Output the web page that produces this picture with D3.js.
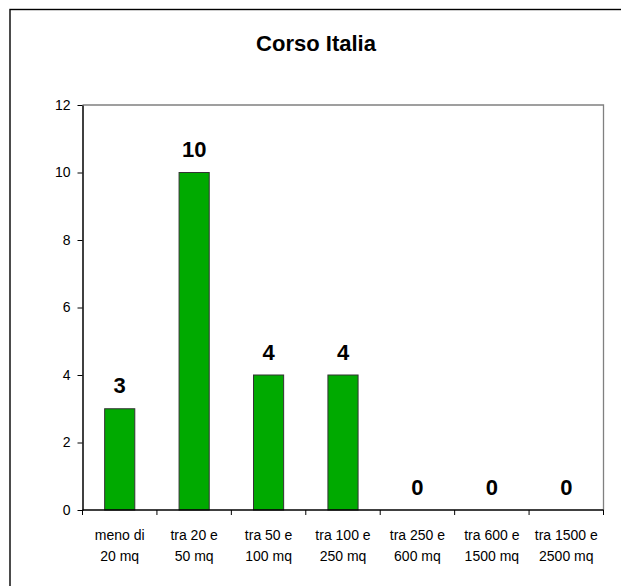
<!DOCTYPE html>
<html>
<head>
<meta charset="utf-8">
<script src="https://cdn.jsdelivr.net/npm/d3@7"></script>
<style>
  html, body { margin: 0; padding: 0; background: #fff; }
  svg { display: block; font-family: "Liberation Sans", Arial, sans-serif; }
</style>
</head>
<body>
<svg id="chart" width="621" height="586"></svg>
<script>
// Number of shops by floor-area band, Corso Italia
const title = "Corso Italia";
const categories = [
  ["meno di", "20 mq"],
  ["tra 20 e", "50 mq"],
  ["tra 50 e", "100 mq"],
  ["tra 100 e", "250 mq"],
  ["tra 250 e", "600 mq"],
  ["tra 600 e", "1500 mq"],
  ["tra 1500 e", "2500 mq"]
];
const values = [3, 10, 4, 4, 0, 0, 0];
const yTicks = [0, 2, 4, 6, 8, 10, 12];

const svg = d3.select("#chart");
const plot = { left: 82.5, right: 603.5, top: 105, bottom: 510 };

// outer chart frame
svg.append("rect")
  .attr("x", 10).attr("y", 9.5)
  .attr("width", 640).attr("height", 600)
  .attr("fill", "#fff").attr("stroke", "#000").attr("stroke-width", 1.4);

svg.append("text")
  .attr("x", 316).attr("y", 50.5)
  .attr("text-anchor", "middle")
  .attr("font-size", 22).attr("font-weight", "bold")
  .text(title);

const keys = categories.map((c, i) => i);
const x = d3.scaleBand().domain(keys).range([plot.left, plot.right]).padding(0);
const y = d3.scaleLinear().domain([0, 12]).range([plot.bottom, plot.top]);
const barW = x.bandwidth() * 0.405;

// plot area border (top and right)
svg.append("path")
  .attr("d", `M${plot.left},${plot.top}H${plot.right}V${plot.bottom}`)
  .attr("fill", "none").attr("stroke", "#808080").attr("stroke-width", 1.3);

// bars
svg.append("g").selectAll("rect")
  .data(values)
  .join("rect")
  .attr("x", (d, i) => x(i) + (x.bandwidth() - barW) / 2)
  .attr("y", d => y(d))
  .attr("width", barW)
  .attr("height", d => y(0) - y(d))
  .attr("fill", "#00aa00")
  .attr("stroke", "#333")
  .attr("stroke-width", 1);

// value labels
svg.append("g").selectAll("text")
  .data(values)
  .join("text")
  .attr("x", (d, i) => x(i) + x.bandwidth() / 2)
  .attr("y", d => y(d) - 15.5)
  .attr("text-anchor", "middle")
  .attr("font-size", 22).attr("font-weight", "bold")
  .text(d => d);

// y axis
const yAxis = svg.append("g")
  .attr("transform", `translate(${plot.left},0)`)
  .call(d3.axisLeft(y).tickValues(yTicks).tickSize(5).tickSizeOuter(0).tickPadding(7));
yAxis.select(".domain").attr("stroke", "#000").attr("stroke-width", 1.5);
yAxis.selectAll(".tick line").attr("stroke", "#000");
yAxis.selectAll(".tick text")
  .attr("font-size", 14).attr("font-family", "Liberation Sans, Arial, sans-serif")
  .attr("fill", "#000");

// x axis line and tick marks at band boundaries
const xg = svg.append("g");
xg.append("line")
  .attr("x1", plot.left).attr("x2", plot.right)
  .attr("y1", plot.bottom).attr("y2", plot.bottom)
  .attr("stroke", "#000").attr("stroke-width", 1.5);
const bounds = keys.map(k => x(k)).concat([x.range()[1]]);
xg.selectAll("line.tick")
  .data(bounds)
  .join("line")
  .attr("class", "tick")
  .attr("x1", d => d).attr("x2", d => d)
  .attr("y1", plot.bottom).attr("y2", plot.bottom + 5)
  .attr("stroke", "#000");

// category labels, two lines each
const labels = xg.selectAll("text")
  .data(categories)
  .join("text")
  .attr("text-anchor", "middle")
  .attr("font-size", 14)
  .attr("fill", "#000");
labels.each(function(d, i) {
  const t = d3.select(this);
  const cx = x(i) + x.bandwidth() / 2;
  t.append("tspan").attr("x", cx).attr("y", 540).text(d[0]);
  t.append("tspan").attr("x", cx).attr("y", 560.5).text(d[1]);
});
</script>
</body>
</html>
